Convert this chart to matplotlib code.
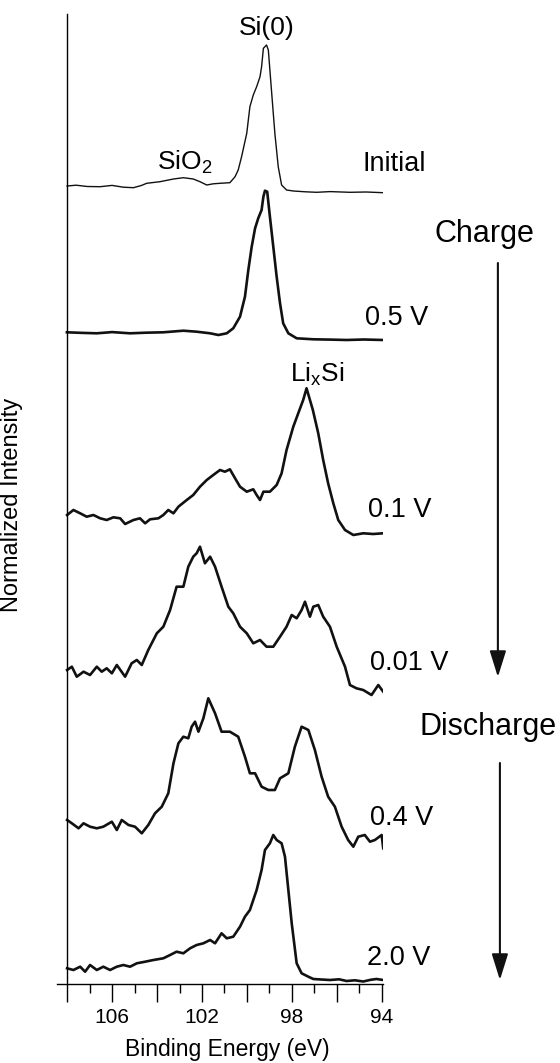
import numpy as np
import matplotlib.pyplot as plt
from matplotlib.ticker import MultipleLocator, FuncFormatter

plt.rcParams['font.family'] = ['Liberation Sans', 'DejaVu Sans']
plt.rcParams['mathtext.fontset'] = 'custom'
plt.rcParams['mathtext.rm'] = 'Liberation Sans'
plt.rcParams['mathtext.it'] = 'Liberation Sans:italic'
plt.rcParams['mathtext.default'] = 'regular'

# ------------------ datos (Si 2p XPS) ------------------
labels = ['Initial', '0.5 V', '0.1 V', '0.01 V', '0.4 V', '2.0 V']
offsets = [798, 651.7, 469, 314, 164, 15.7]

e_initial = [108.0, 107.6, 107.1, 106.53, 106.0, 105.5, 105.05, 104.7, 104.46, 103.87, 103.27,
             102.83, 102.39, 102.09, 101.79, 101.5, 101.2, 100.76, 100.53, 100.39, 100.24,
             100.01, 99.87, 99.72, 99.57, 99.42, 99.35, 99.27, 99.13, 99.05, 98.90, 98.76,
             98.61, 98.46, 98.24, 97.94, 97.4, 96.90, 96.3, 95.42, 94.7, 93.94]
i_initial = [0, 0.8, -0.5, -0.7, 0.6, -1.2, -1.7, 0.5, 2.7, 4.3, 7, 8.3, 7, 4.3, 1, 2.2, 2.7,
             3.3, 9.3, 16, 29.3, 52.7, 79.3, 91, 99.3, 109.3, 119.3, 137.7, 141, 136, 92.7,
             52.7, 19.3, 1, -4, -5, -5.8, -6.3, -5.6, -6.3, -6.0, -6.7]

e_05 = [108.01, 107.3, 106.68, 106.0, 105.2, 104.5, 103.72, 102.83, 102.24, 101.64, 101.27,
        100.9, 100.61, 100.31, 100.09, 99.94, 99.79, 99.64, 99.50, 99.35, 99.27, 99.20,
        99.10, 98.98, 98.83, 98.68, 98.53, 98.39, 98.16, 97.79, 97.05, 96.3, 95.57, 94.8, 93.94]
i_05 = [0, -0.6, -1, 0.2, -1, -0.4, 0, 1.6, 0.6, -1, -2.7, -1, 4, 15.6, 35.6, 62.3, 85.6,
        104, 114, 122.3, 135.6, 141.6, 140.6, 115.6, 85.6, 55.6, 29, 9, -1, -6, -7, -7.3,
        -7.7, -7.2, -7.7]

e_01 = [108.0, 107.72, 107.42, 107.13, 106.83, 106.53, 106.24, 105.94, 105.64, 105.42, 105.05,
        104.76, 104.53, 104.31, 103.94, 103.72, 103.5, 103.27, 103.05, 102.68, 102.39, 102.09,
        101.79, 101.5, 101.2, 100.98, 100.76, 100.53, 100.31, 100.01, 99.72, 99.57, 99.42,
        99.27, 98.98, 98.68, 98.46, 98.24, 97.94, 97.72, 97.5, 97.35, 97.07, 96.83, 96.61,
        96.39, 96.16, 95.94, 95.64, 95.27, 94.83, 94.39, 93.94]
i_01 = [0, 5, 1.7, -1.7, 0, -3.3, -5, -2.3, -3.3, -9, -5, -3.3, -8.3, -4.3, -3.3, 0, 5, 1.7,
        8.3, 15, 20, 28.3, 35, 40, 45, 43.3, 45.7, 36.7, 28.3, 23.3, 25.7, 20, 15, 23.3, 23.3,
        30, 41.7, 65, 88.3, 101.7, 115, 126.7, 105, 81.7, 55, 31.7, 11.7, -5, -15, -20, -18.3,
        -19, -18.3]

e_001 = [108.0, 107.79, 107.57, 107.27, 106.98, 106.68, 106.46, 106.24, 106.01, 105.79, 105.42,
         105.13, 104.9, 104.68, 104.39, 104.01, 103.72, 103.42, 103.13, 102.83, 102.61, 102.39,
         102.24, 102.09, 101.87, 101.64, 101.42, 101.13, 100.83, 100.61, 100.31, 100.01, 99.72,
         99.42, 99.13, 98.83, 98.53, 98.24, 98.01, 97.79, 97.57, 97.42, 97.2, 97.05, 96.83,
         96.61, 96.31, 96.01, 95.64, 95.42, 95.13, 94.83, 94.46, 94.16, 93.94]
i_001 = [0, 3.3, -6.7, -1.7, -5, 3.3, -1.7, 1.7, -3.3, 5, -6.7, 6.7, 10, 5, 20, 36.7, 43.3, 60,
         83.3, 83.3, 103.3, 113.3, 116.7, 123.3, 106.7, 113.3, 103.3, 83.3, 63.3, 56.7, 43.3,
         36.7, 26.7, 30, 23.3, 23.3, 33.3, 43.3, 55, 51.7, 60, 68.3, 53.3, 63.3, 65, 53.3,
         43.3, 23.3, 3.3, -15, -18.3, -20, -25, -15, -21.7]

e_04 = [108.0, 107.79, 107.49, 107.27, 106.98, 106.68, 106.39, 106.01, 105.79, 105.57, 105.27,
        104.98, 104.68, 104.39, 104.09, 103.79, 103.5, 103.27, 103.05, 102.83, 102.61, 102.46,
        102.31, 102.16, 101.94, 101.72, 101.42, 101.13, 100.76, 100.39, 100.09, 99.87, 99.64,
        99.35, 99.05, 98.76, 98.53, 98.16, 97.87, 97.57, 97.27, 96.98, 96.68, 96.39, 96.09,
        95.79, 95.5, 95.27, 95.05, 94.76, 94.53, 94.31, 94.01, 93.94]
i_04 = [0, -3.3, -8.3, -3.3, -6.7, -8.3, -6.7, -1.7, -10, 0, -5, -6.7, -13.3, -5, 6.7, 13.3,
        26.7, 56.7, 76.7, 83.3, 81.7, 93.3, 98.3, 88.3, 101.7, 121.7, 106.7, 88.3, 88.3, 83.3,
        63.3, 46.7, 46.7, 33.3, 30, 30, 41.7, 46.7, 73.3, 93.3, 90, 70, 43.3, 23.3, 13.3, -6.7,
        -20, -26.7, -16.7, -15, -21.7, -20, -15, -28.3]

e_20 = [108.0, 107.72, 107.42, 107.2, 106.98, 106.68, 106.39, 106.09, 105.79, 105.5, 105.2,
        104.9, 104.53, 104.16, 103.72, 103.42, 103.13, 102.83, 102.53, 102.24, 101.94, 101.64,
        101.42, 101.13, 100.9, 100.61, 100.31, 100.09, 99.87, 99.57, 99.35, 99.2, 98.98, 98.83,
        98.68, 98.46, 98.31, 98.16, 98.01, 97.79, 97.57, 97.27, 97.05, 96.7, 96.31, 95.9,
        95.57, 95.2, 94.83, 94.5, 94.24, 93.94]
i_20 = [0, -1.7, 1.6, -3.4, 3.3, -1.7, 1.6, -1.7, 1.6, 3.3, 1.6, 5, 6.6, 8.3, 10, 13.3, 16.6,
        15, 20, 23.3, 25, 28.3, 25, 35, 30, 31.6, 41.6, 51.6, 58.3, 78.3, 98.3, 118.3, 125,
        133.3, 128.3, 125, 111.6, 78.3, 45, 5, -5, -8.4, -10.7, -11.2, -11.7, -11, -12.7,
        -12, -13.2, -11.5, -10.7, -11.7]

energies = [e_initial, e_05, e_01, e_001, e_04, e_20]
intensities = [i_initial, i_05, i_01, i_001, i_04, i_20]

# ------------------ grafico ------------------
fig = plt.figure(figsize=(5.6, 10.63), dpi=100)
ax = fig.add_axes([57 / 560, 79 / 1063, 326 / 560, 970 / 1063])

for k, (e, inten, off) in enumerate(zip(energies, intensities, offsets)):
    lw = 1.0 if k == 0 else 1.9
    ax.plot(e, np.array(inten) + off, color='#111111', lw=lw, solid_joinstyle='round')

ax.set_xlim(108.45, 93.95)
ax.set_ylim(0, 970)

ax.spines['top'].set_visible(False)
ax.spines['right'].set_visible(False)
ax.spines['left'].set_position(('data', 108))
ax.spines['left'].set_linewidth(1.0)
ax.spines['bottom'].set_linewidth(1.0)
ax.set_yticks([])

ax.xaxis.set_major_locator(MultipleLocator(2))
ax.xaxis.set_minor_locator(MultipleLocator(1))
ax.xaxis.set_major_formatter(FuncFormatter(lambda v, p: f"{v:.0f}" if round(v) % 4 == 2 else ""))
ax.tick_params(axis='x', which='major', direction='out', length=13, width=1.0, pad=4, labelsize=15)
ax.tick_params(axis='x', which='minor', direction='out', length=6.5, width=1.0)

ax.set_xlabel('Binding Energy (eV)', fontsize=16.5)
ax.xaxis.set_label_coords(0.521, -0.056)
ax.set_ylabel('Normalized Intensity', fontsize=17)
ax.yaxis.set_label_coords(-0.104, 0.494)

# etiquetas de cada curva
label_pos = [(94.84, 813), (94.76, 659), (94.62, 467), (94.53, 314), (94.53, 159), (94.67, 19)]
for txt, (x, y) in zip(labels, label_pos):
    ax.text(x, y, txt, fontsize=19.5, ha='left', va='baseline', clip_on=False)

ax.text(99.11, 949, 'Si(0)', fontsize=19, ha='center', va='baseline')
ax.text(104.0, 814, 'SiO$_2$', fontsize=19, ha='left', va='baseline')
ax.text(98.09, 602, 'Li$_x$Si', fontsize=19, ha='left', va='baseline')

ax.text(89.42, 742, 'Charge', fontsize=22, ha='center', va='baseline', clip_on=False)
ax.text(89.29, 249, 'Discharge', fontsize=22, ha='center', va='baseline', clip_on=False)

arrow = dict(arrowstyle='-|>,head_length=0.64,head_width=0.2', mutation_scale=25,
             lw=1.5, color='#111111', shrinkA=0, shrinkB=0)
ax.annotate('', xy=(88.84, 307), xytext=(88.84, 721), arrowprops=arrow, annotation_clip=False)
ax.annotate('', xy=(88.75, 4), xytext=(88.75, 221), arrowprops=arrow, annotation_clip=False)

fig.savefig('out.png', dpi=100)
plt.close(fig)
